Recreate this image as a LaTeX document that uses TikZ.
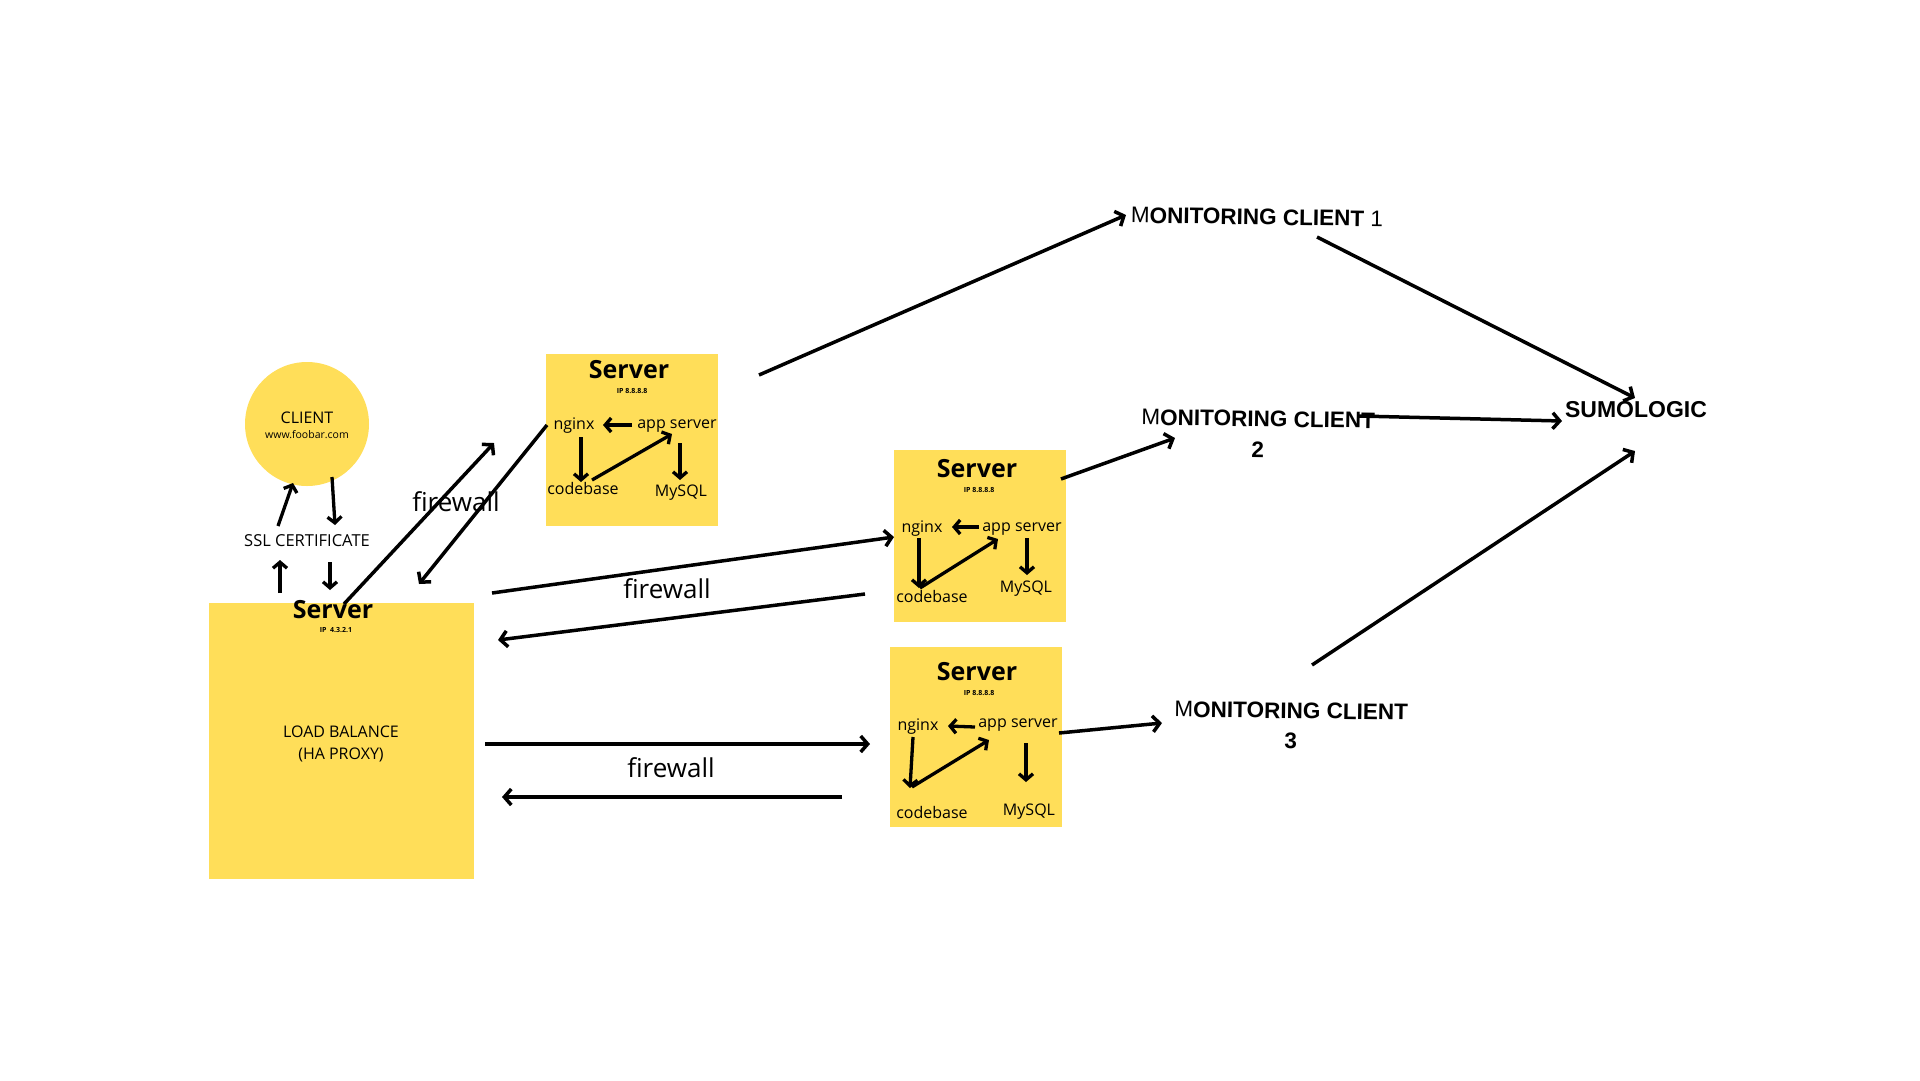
\documentclass[tikz,border=0pt]{standalone}
\usepackage{fontspec}
\setmainfont{Open Sans}
\newfontfamily\monfont{Liberation Sans}
\usetikzlibrary{arrows.meta}
\definecolor{yel}{HTML}{FFDE59}
\tikzset{
  ybox/.style={fill=yel, draw=none, inner sep=0pt, rectangle},
  lbl/.style={inner sep=0pt, text=black, align=center},
  fs/.style={font=\fontsize{#1}{#1}\selectfont},
  title/.style={lbl, font=\fontsize{25}{25}\selectfont\bfseries},
  iptext/.style={lbl, font=\fontsize{7}{7}\selectfont\bfseries},
  comp/.style={lbl, font=\fontsize{16}{16}\selectfont},
  mon/.style={lbl, font=\monfont\fontsize{22.5}{30.5}\selectfont\bfseries, rotate=-0.8},
  fw/.style={lbl, font=\fontsize{26}{26}\selectfont},
  arr/.style={line width=3.5pt, -{Straight Barb[length=7pt,width=16pt]}},
  iarr/.style={line width=3.3pt, -{Straight Barb[length=6pt,width=14pt]}},
}
\begin{document}
\begin{tikzpicture}[x=1pt,y=-1pt]
\useasboundingbox (0,0) rectangle (1920,1080);
\fill[white] (0,0) rectangle (1920,1080);

% ---------- shapes ----------
\node[ybox, circle, minimum size=124pt] (client) at (307,424) {};
\node[ybox, minimum width=265pt, minimum height=276pt] (lb) at (341.5,741) {};
\node[ybox, minimum width=172pt, minimum height=172pt] (s1) at (632,440) {};
\node[ybox, minimum width=172pt, minimum height=172pt] (s2) at (980,536) {};
\node[ybox, minimum width=172pt, minimum height=180pt] (s3) at (976,737) {};

% ---------- client ----------
\node[lbl, fs=16] (clientname) at (307,418) {CLIENT};
\node[lbl, fs=10.5] (clienturl) at (307,435) {www.foobar.com};
\node[lbl, fs=16.5] (ssl) at (307,541) {SSL CERTIFICATE};

% ---------- load balancer ----------
\node[title] (lbtitle) at (333,610) {Server};
\node[iptext] (lbip) at (336,630) {IP\ \ 4.3.2.1};
\node[lbl, fs=16] (lbtext) at (341,744) {LOAD BALANCE\\[6pt](HA PROXY)};

% ---------- server 1 ----------
\node[title] (s1title) at (629,370) {Server};
\node[iptext] (s1ip) at (632,391) {IP 8.8.8.8};
\node[comp] (s1nginx) at (574,426) {nginx};
\node[comp] (s1app) at (677,426) {app server};
\node[comp] (s1code) at (583,488) {codebase};
\node[comp] (s1sql) at (681,493) {MySQL};

% ---------- server 2 ----------
\node[title] (s2title) at (977,469) {Server};
\node[iptext] (s2ip) at (979,490) {IP 8.8.8.8};
\node[comp] (s2nginx) at (922,529) {nginx};
\node[comp] (s2app) at (1022,529) {app server};
\node[comp] (s2code) at (932,596) {codebase};
\node[comp] (s2sql) at (1026,589) {MySQL};

% ---------- server 3 ----------
\node[title] (s3title) at (977,672) {Server};
\node[iptext] (s3ip) at (979,693) {IP 8.8.8.8};
\node[comp] (s3nginx) at (918,727) {nginx};
\node[comp] (s3app) at (1018,725) {app server};
\node[comp] (s3code) at (932,812) {codebase};
\node[comp] (s3sql) at (1029,812) {MySQL};

% ---------- firewalls ----------
\node[fw] (fw1) at (456,502) {firewall};
\node[fw] (fw2) at (667,589) {firewall};
\node[fw] (fw3) at (671,768) {firewall};

% ---------- monitoring ----------
\node[mon] (mc1) at (1257,217) {{\mdseries M}ONITORING CLIENT {\mdseries 1}};
\node[mon] (mc2) at (1258,434) {{\mdseries M}ONITORING CLIENT\\2};
\node[mon] (mc3) at (1291,726) {{\mdseries M}ONITORING CLIENT\\3};
\node[lbl, font=\monfont\fontsize{23}{23}\selectfont\bfseries] (sumo) at (1636,410) {SUMOLOGIC};

% ---------- connector end points ----------
\coordinate (c1a) at (278,526); \coordinate (c1b) at (293,483);
\coordinate (c2a) at (332,477); \coordinate (c2b) at (335,525);
\coordinate (c3a) at (280,593); \coordinate (c3b) at (280,560);
\coordinate (c4a) at (330,562); \coordinate (c4b) at (330,590);

\coordinate (f1a) at (344,604); \coordinate (f1b) at (494,443);
\coordinate (f2a) at (547,425); \coordinate (f2b) at (419,584);
\coordinate (f3a) at (492,593); \coordinate (f3b) at (894,537);
\coordinate (f4a) at (865,594); \coordinate (f4b) at (498,640);
\coordinate (f5a) at (485,744); \coordinate (f5b) at (870,744);
\coordinate (f6a) at (842,797); \coordinate (f6b) at (502,797);

\coordinate (m1a) at (759,375);  \coordinate (m1b) at (1126,215);
\coordinate (m2a) at (1317,237); \coordinate (m2b) at (1635,398);
\coordinate (m3a) at (1359,416); \coordinate (m3b) at (1562,421);
\coordinate (m4a) at (1061,479); \coordinate (m4b) at (1175,438);
\coordinate (m5a) at (1312,665); \coordinate (m5b) at (1635,451);
\coordinate (m6a) at (1059,733); \coordinate (m6b) at (1162,723);

% server 1 internals
\coordinate (p1a) at (632,425); \coordinate (p1b) at (603,425);
\coordinate (p2a) at (581,437); \coordinate (p2b) at (581,482);
\coordinate (p3a) at (592,480); \coordinate (p3b) at (672,434);
\coordinate (p4a) at (680,443); \coordinate (p4b) at (680,480);
% server 2 internals
\coordinate (q1a) at (979,527); \coordinate (q1b) at (952,527);
\coordinate (q2a) at (919,538); \coordinate (q2b) at (919,588);
\coordinate (q3a) at (920,588); \coordinate (q3b) at (998,539);
\coordinate (q4a) at (1027,538); \coordinate (q4b) at (1027,575);
% server 3 internals
\coordinate (r1a) at (975,727); \coordinate (r1b) at (948,726);
\coordinate (r2a) at (913,737); \coordinate (r2b) at (910,788);
\coordinate (r3a) at (912,787); \coordinate (r3b) at (989,740);
\coordinate (r4a) at (1026,743); \coordinate (r4b) at (1026,782);

% ---------- connectors ----------
\foreach \a/\b in {c1a/c1b,c2a/c2b,c3a/c3b,c4a/c4b}
  \draw[iarr] (\a) -- (\b);
\foreach \a/\b in {f1a/f1b,f2a/f2b,f3a/f3b,f4a/f4b,f5a/f5b,f6a/f6b,
                   m1a/m1b,m2a/m2b,m3a/m3b,m4a/m4b,m5a/m5b,m6a/m6b}
  \draw[arr] (\a) -- (\b);
\foreach \a/\b in {p1a/p1b,p2a/p2b,p3a/p3b,p4a/p4b,
                   q1a/q1b,q2a/q2b,q3a/q3b,q4a/q4b,
                   r1a/r1b,r2a/r2b,r3a/r3b,r4a/r4b}
  \draw[iarr] (\a) -- (\b);
\end{tikzpicture}
\end{document}
